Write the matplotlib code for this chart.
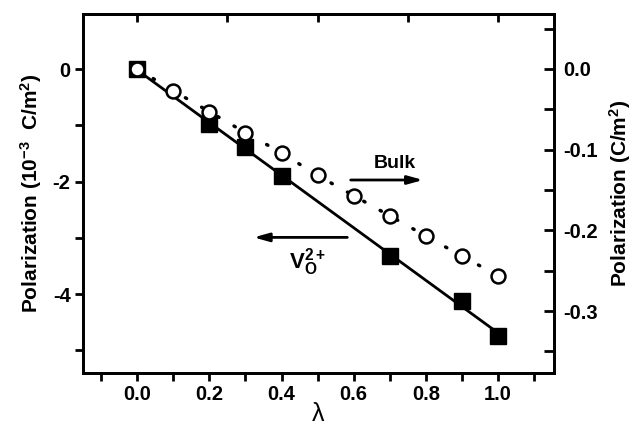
import matplotlib
matplotlib.use('Agg')
import matplotlib.pyplot as plt
from matplotlib.ticker import MultipleLocator
import numpy as np

plt.rcParams['font.family'] = ['Liberation Sans', 'DejaVu Sans']
plt.rcParams['font.weight'] = 'bold'
plt.rcParams['mathtext.fontset'] = 'custom'
plt.rcParams['mathtext.rm'] = 'Liberation Sans:bold'
plt.rcParams['mathtext.it'] = 'Liberation Sans:bold'
plt.rcParams['mathtext.bf'] = 'Liberation Sans:bold'

# vacancy data (left axis, 10^-3 C/m^2)
lam_v = [0.0, 0.2, 0.3, 0.4, 0.7, 0.9, 1.0]
pol_v = [0.0, -0.98, -1.39, -1.90, -3.32, -4.12, -4.75]

# bulk data (right axis, C/m^2)
lam_b = [0.0, 0.1, 0.2, 0.3, 0.4, 0.5, 0.6, 0.7, 0.8, 0.9, 1.0]
pol_b = [0.0, -0.027, -0.053, -0.079, -0.104, -0.132, -0.157, -0.182, -0.207, -0.232, -0.256]

fig = plt.figure(figsize=(6.34, 4.29), dpi=100)
ax = fig.add_axes([83/634, 1 - 373/429, (554-83)/634, (373-14)/429])

# fitted line through squares
fit = np.polyfit(lam_v, pol_v, 1)
xx = np.array([0.0, 1.0])
ax.plot(xx, np.polyval(fit, xx), color='black', lw=2, zorder=2)
ax.plot(lam_v, pol_v, 's', color='black', ms=12, zorder=3)

ax.set_xlim(-0.15, 1.155)
ax.set_ylim(-5.4, 0.98)
ax.xaxis.set_major_locator(MultipleLocator(0.2))
ax.xaxis.set_minor_locator(MultipleLocator(0.1))
ax.yaxis.set_major_locator(MultipleLocator(2))
ax.yaxis.set_minor_locator(MultipleLocator(1))
ax.tick_params(which='both', direction='out', width=2, length=6, labelsize=14.5,
               top=False, right=False, pad=3)
for s in ax.spines.values():
    s.set_linewidth(2)
ax.set_xticks([0.0, 0.2, 0.4, 0.6, 0.8, 1.0])
ax.set_xticklabels(['0.0', '0.2', '0.4', '0.6', '0.8', '1.0'])
ax.set_yticks([0, -2, -4])
ax.set_yticklabels(['0', '-2', '-4'])
ax.set_ylabel('Polarization (10$^{-3}$  C/m$^{2}$)', fontsize=15, fontweight='bold', labelpad=6)
ax.set_xlabel('λ', fontsize=18, fontweight='normal', labelpad=-2)

# top ticks, inward, no labels
top = ax.secondary_xaxis('top')
top.set_xticks([0.0, 0.25, 0.5, 0.75, 1.0])
top.tick_params(direction='in', length=6, width=2, labeltop=False)
top.spines['top'].set_linewidth(2)

# right axis with bulk data
ax2 = ax.twinx()
ax2.plot(lam_b, pol_b, color='black', lw=2.5, linestyle=(0, (0.4, 5)),
         dash_capstyle='round', zorder=2)
ax2.plot(lam_b, pol_b, 'o', mfc='white', mec='black', mew=1.8, ms=10, zorder=3)
ax2.set_ylim(-0.3767, 0.068)
ax2.yaxis.set_major_locator(MultipleLocator(0.1))
ax2.yaxis.set_minor_locator(MultipleLocator(0.05))
ax2.tick_params(which='both', direction='in', width=2, length=7, labelsize=14.5, pad=7)
ax2.set_yticks([0.0, -0.1, -0.2, -0.3])
ax2.set_yticklabels(['0.0', '-0.1', '-0.2', '-0.3'])
ax2.set_ylabel('Polarization (C/m$^{2}$)', fontsize=15, fontweight='bold', labelpad=6)
for s in ax2.spines.values():
    s.set_linewidth(2)

# annotations
arrow = dict(arrowstyle='-|>,head_length=0.9,head_width=0.25', color='black', lw=2)
ax.annotate('', xy=(0.8, -1.97), xytext=(0.584, -1.97), arrowprops=arrow)
ax.text(0.715, -1.67, 'Bulk', ha='center', va='center', fontsize=14, fontweight='bold')
ax.annotate('', xy=(0.315, -2.99), xytext=(0.59, -2.99), arrowprops=arrow)
ax.text(0.42, -3.43, 'V$_{O}^{2+}$', ha='left', va='center', fontsize=16, fontweight='bold')

fig.savefig('out.png', dpi=100)
